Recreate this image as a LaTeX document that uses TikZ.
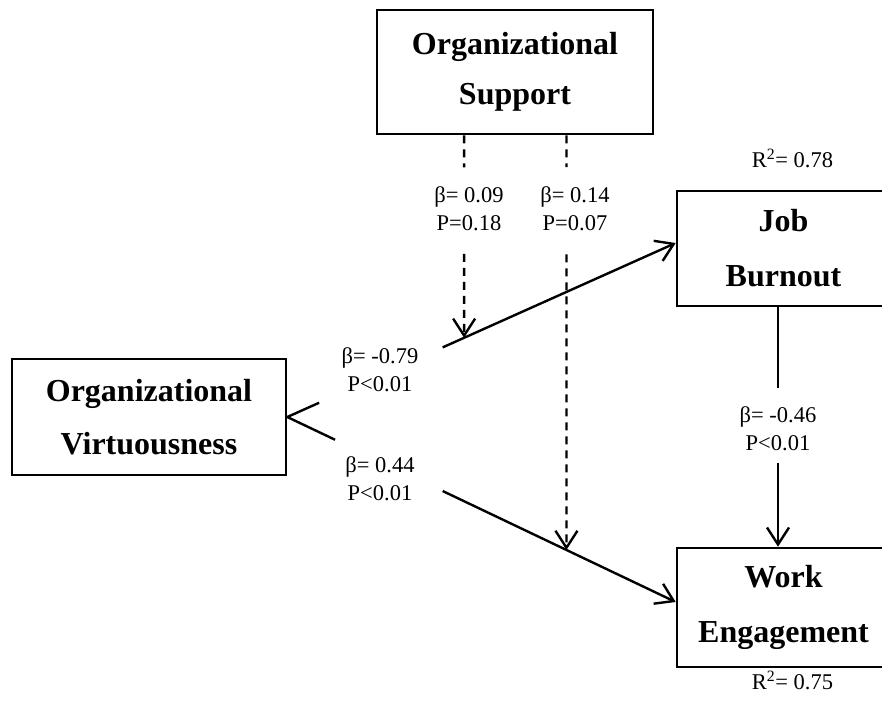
\documentclass[tikz,border=0pt]{standalone}
\usepackage{fontspec}
\setmainfont{Liberation Serif}
\usetikzlibrary{arrows.meta,calc}
\begin{document}
\begin{tikzpicture}[x=1pt,y=-1pt,
  box/.style={draw,line width=2.6pt,inner sep=0pt,align=center},
  bigfont/.style={font=\fontsize{32}{#1}\selectfont\bfseries},
  lab/.style={font=\fontsize{22.5}{28}\selectfont,align=center,inner sep=0pt},
  conn/.style={line width=2.4pt},
  tip/.style={-{Straight Barb[length=17pt,width=22pt,line width=2.4pt]}},
  dline/.style={line width=2.4pt,dash pattern=on 8pt off 6pt}
]
\useasboundingbox (0,0) rectangle (882,712);
\clip (0,0) rectangle (882,712);

% boxes
\node[box,bigfont=50,minimum width=276pt,minimum height=124pt] (sup) at (515,72) {Organizational\\Support};
\node[box,bigfont=53,minimum width=274pt,minimum height=116pt] (virt) at (149,417) {Organizational\\Virtuousness};
\node[box,bigfont=55,minimum width=213pt,minimum height=115pt] (burn) at (783.5,248.5) {Job\\Burnout};
\node[box,bigfont=55,minimum width=213pt,minimum height=119pt] (work) at (783.5,607.5) {Work\\Engagement};

% coordinates
\coordinate (vE) at (virt.east);
\coordinate (bT) at ($(burn.west)+(0,-5.5)$);
\coordinate (wT) at ($(work.west)+(0,-5.5)$);
\coordinate (d1t) at ($(vE)!0.4552!(bT)$);
\coordinate (d2t) at ($(vE)!0.7187!(wT)$);
\coordinate (d1s) at (d1t |- sup.south);
\coordinate (d2s) at (d2t |- sup.south);
\coordinate (bS) at ($(burn.south)+(-5.5,0)$);
\coordinate (wN) at ($(work.north)+(-5.5,0)$);

% solid paths
\draw[conn] (vE) -- ($(vE)!0.082!(bT)$);
\draw[conn,tip] ($(vE)!0.40!(bT)$) -- (bT);
\draw[conn] (vE) -- ($(vE)!0.123!(wT)$);
\draw[conn,tip] ($(vE)!0.40!(wT)$) -- (wT);
\draw[conn] (bS) -- ($(bS)!0.335!(wN)$);
\draw[conn,tip] ($(bS)!0.649!(wN)$) -- (wN);

% dashed moderation paths
\draw[dline] (d1s) -- ($(d1s)!0.158!(d1t)$);
\draw[dline,tip] ($(d1s)!0.586!(d1t)$) -- (d1t);
\draw[dline] (d2s) -- ($(d2s)!0.077!(d2t)$);
\draw[dline,tip] ($(d2s)!0.287!(d2t)$) -- (d2t);

% labels
\node[lab] (l09) at (469,209) {β= 0.09\\P=0.18};
\node[lab] (l14) at (575,209) {β= 0.14\\P=0.07};
\node[lab] (l79) at (380,370) {β= -0.79\\P<0.01};
\node[lab] (l44) at (380,479) {β= 0.44\\P<0.01};
\node[lab] (l46) at (778,429) {β= -0.46\\P<0.01};
\node[lab,anchor=base] (r78) at (792.5,167) {R\textsuperscript{2}= 0.78};
\node[lab,anchor=base] (r75) at (792.5,689) {R\textsuperscript{2}= 0.75};
\end{tikzpicture}
\end{document}
